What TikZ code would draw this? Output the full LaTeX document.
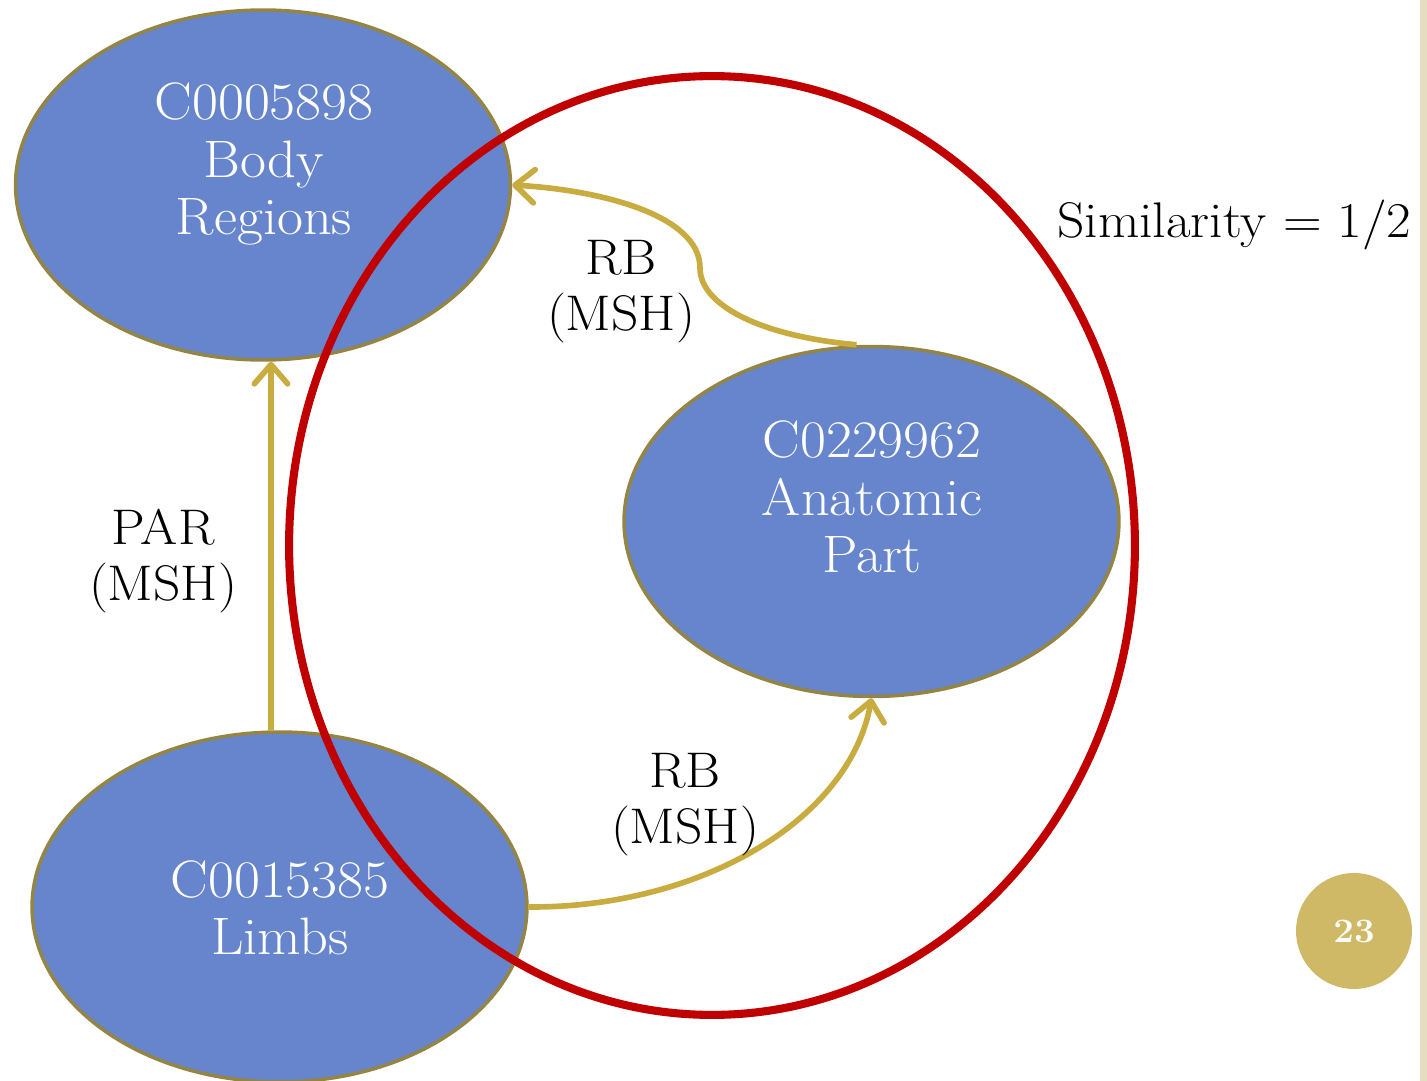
\documentclass[tikz,border=0pt]{standalone}
\usepackage{fontspec}
\setmainfont{Latin Modern Roman}[FakeStretch=1.07]
\usetikzlibrary{arrows.meta,shapes.geometric}
\definecolor{nodeblue}{RGB}{102,133,204}
\definecolor{nodeedge}{RGB}{148,133,69}
\definecolor{linkgold}{RGB}{200,172,64}
\definecolor{simred}{RGB}{192,0,0}
\definecolor{pagegold}{RGB}{207,185,102}
\definecolor{stripbeige}{RGB}{230,221,193}
\begin{document}
\begin{tikzpicture}[x=0.02cm,y=-0.02cm,
  concept/.style={ellipse, draw=nodeedge, line width=2pt, fill=nodeblue,
    minimum width=9.9cm, minimum height=7.0cm, inner sep=0pt},
  ctext/.style={text=white, align=center, inner sep=0pt,
    font=\fontsize{30}{32.7}\selectfont},
  rel/.style={draw=linkgold, line width=3.2pt,
    -{Straight Barb[length=11pt,width=19pt,round]}},
  rlabel/.style={align=center, inner sep=0pt,
    font=\fontsize{28.5}{31.9}\selectfont},
  simset/.style={ellipse, draw=simred, line width=4.6pt,
    minimum width=16.92cm, minimum height=18.78cm, inner sep=0pt}]
\useasboundingbox (0,0) rectangle (1427,1081);
\fill[stripbeige] (1420,0) rectangle (1427,1081);

% concepts
\node[concept] (body) at (263,185) {};
\node[concept] (anat) at (871.5,521.5) {};
\node[concept] (limbs) at (279.5,907) {};

% similarity set
\node[simset] (set) at (712,545.5) {};

% concept texts
\node[ctext] (bodyT) at (264,164) {C0005898\\Body\\Regions};
\node[ctext] (anatT) at (872,497) {C0229962\\Anatomic\\Part};
\node[ctext] (limbsT) at (280,908) {C0015385\\Limbs};

% relations
\draw[rel] ([xshift=-0.17cm]limbs.north) -- ([xshift=0.16cm]body.south);
\draw[rel] ([xshift=-0.3cm]anat.north) .. controls (760,336) and (700,305) .. (700,268)
  .. controls (700,215) and (600,190) .. (body.east);
\draw[rel] (limbs.east) .. controls (700,908) and (850,820) .. (anat.south);

% relation labels
\node[rlabel] (parL) at (163,561) {PAR\\(MSH)};
\node[rlabel] (rbTop) at (621,292) {RB\\(MSH)};
\node[rlabel] (rbBot) at (685,805) {RB\\(MSH)};
\node[rlabel, anchor=base] (simL) at (1234.5,238) {Similarity = 1/2};

% page number
\node[circle, fill=pagegold, minimum size=2.32cm, inner sep=0pt, text=white,
  font=\fontsize{19.5}{22}\selectfont\bfseries] (page) at (1354,931) {23};
\end{tikzpicture}
\end{document}
